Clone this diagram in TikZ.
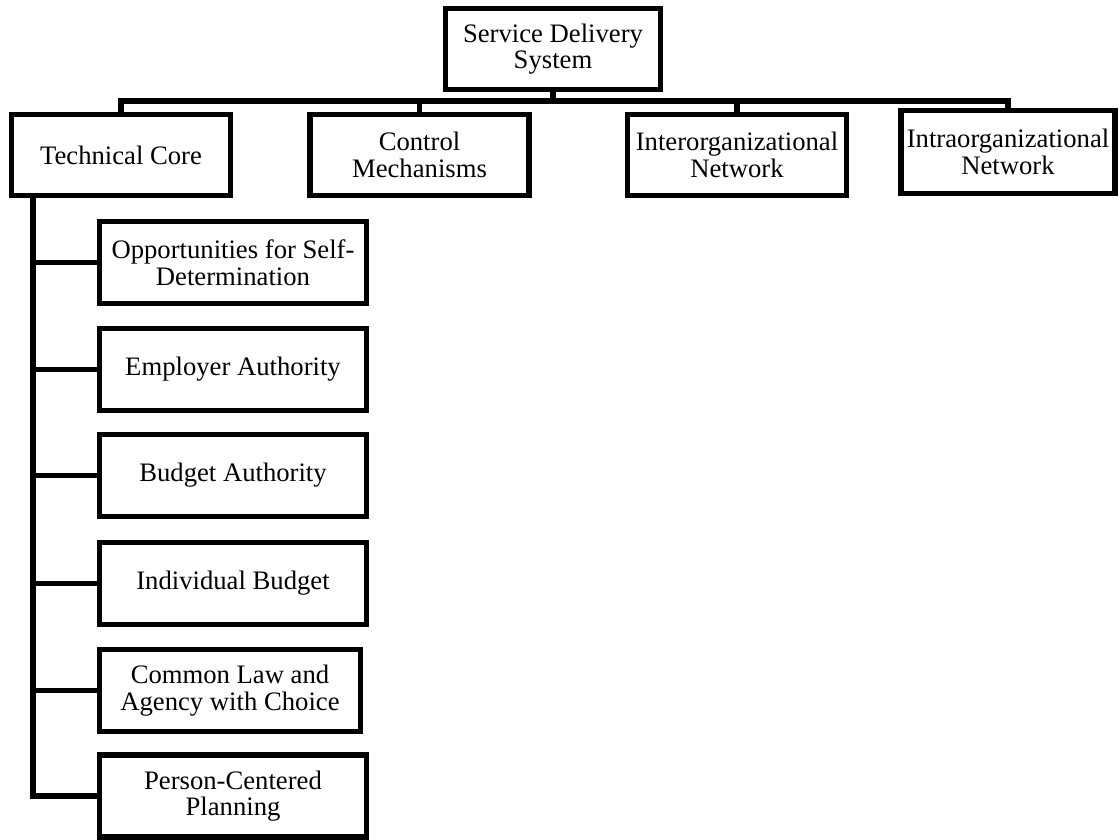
\documentclass[tikz,border=0pt]{standalone}
\usepackage{fontspec}
\setmainfont{Liberation Serif}
\usetikzlibrary{calc}

\tikzset{
	box/.style={draw,rectangle,line width=2.4pt,align=center,inner sep=2pt,font=\fontsize{12}{12}\selectfont},
	headbox/.style={box,minimum width=98.5pt,minimum height=36.5pt},
	subbox/.style={box,minimum width=120pt,minimum height=37pt},
	link/.style={line width=2.4pt}
}

\begin{document}
\begin{tikzpicture}[x=0.45pt,y=-0.45pt]
		\useasboundingbox (0,0) rectangle (1120,839);
		% top level
		\node[box,minimum width=96.75pt,minimum height=36.5pt] (sds) at (553,49) {Service Delivery\\System};
		\node[headbox] (tech) at (121,155) {Technical Core};
		\node[headbox] (ctrl) at (419.5,155) {Control\\Mechanisms};
		\node[headbox] (inter) at (737,155) {Interorganizational\\Network};
		\node[box,minimum width=96.3pt,minimum height=37.3pt] (intra) at (1008,152) {Intraorganizational\\Network};
		% technical core parts
		\node[subbox] (opp) at (233,262.5) {Opportunities for Self-\\Determination};
		\node[subbox] (emp) at (233,369.5) {Employer Authority};
		\node[subbox] (bud) at (233,475.5) {Budget Authority};
		\node[subbox] (ind) at (233,583.5) {Individual Budget};
		\node[subbox,minimum width=117.5pt] (cla) at (230,690.5) {Common Law and\\Agency with Choice};
		\node[subbox] (pcp) at (233,796) {Person-Centered\\Planning};
		% bus
		\coordinate (bus) at (551,101);
		\draw[link] (sds.south) -- (sds.south |- bus);
		\draw[link] (tech.north) |- (bus) -| (intra.north);
		\draw[link] (ctrl.north) -- (ctrl.north |- bus);
		\draw[link] (inter.north) -- (inter.north |- bus);
		% spine
		\coordinate (spine) at ($(tech.south west)+(24,0)$);
		\draw[link] (spine) |- (pcp.west);
		\draw[link] (spine |- opp.west) -- (opp.west);
		\draw[link] (spine |- emp.west) -- (emp.west);
		\draw[link] (spine |- bud.west) -- (bud.west);
		\draw[link] (spine |- ind.west) -- (ind.west);
		\draw[link] (spine |- cla.west) -- (cla.west);
	\end{tikzpicture}
\end{document}
